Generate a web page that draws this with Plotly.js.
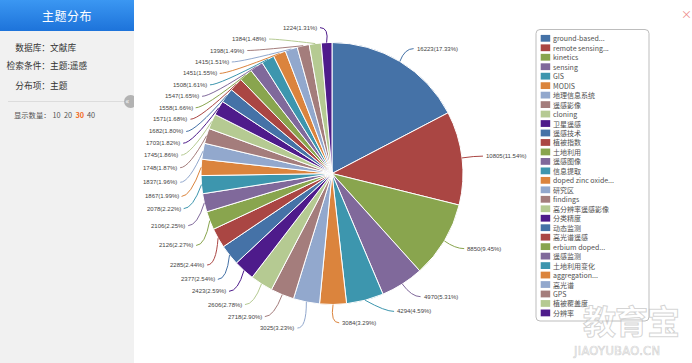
<!DOCTYPE html>
<html>
<head>
<meta charset="utf-8">
<script src="https://cdn.plot.ly/plotly-3.0.1.min.js"></script>
<style>
html,body{margin:0;padding:0;width:692px;height:363px;overflow:hidden;background:#fff;font-family:"Noto Sans CJK SC","Noto Sans",sans-serif;}
#chart{position:absolute;left:0;top:0;width:692px;height:363px;}
#panel{position:absolute;left:0;top:0;width:134px;height:363px;background:#f1f1f1;overflow:hidden;}
#hdr{position:absolute;left:0;top:0;width:134px;height:31px;background:linear-gradient(#3b97f2,#1d73da);color:#fff;font-size:12px;text-align:center;line-height:31px;letter-spacing:0.5px;}
.t{position:absolute;font-size:8.7px;color:#333;white-space:nowrap;line-height:12px;}
.r{text-align:right;}
#div{position:absolute;left:8px;top:101px;width:126px;height:1px;background:#dcdcdc;}
.s{position:absolute;font-size:7.3px;color:#555;white-space:nowrap;line-height:10px;}
#btn{position:absolute;left:123.5px;top:95px;width:13px;height:13px;border-radius:50%;background:#b3b3b3;color:#fff;font-size:8px;line-height:12px;text-indent:2px;}
#close{position:absolute;left:681px;top:7px;font-size:11px;color:#ee8a8a;line-height:14px;}
#wm1{position:absolute;left:583px;top:296px;font-size:33px;font-weight:bold;color:rgba(255,255,255,0.35);-webkit-text-stroke:1px rgba(175,175,175,0.55);letter-spacing:-1px;white-space:nowrap;}
#wm2{position:absolute;left:574px;top:344px;font-size:11.5px;color:rgba(255,255,255,0.3);-webkit-text-stroke:0.7px rgba(175,175,175,0.55);white-space:nowrap;letter-spacing:0.3px;font-family:"DejaVu Sans",sans-serif;}
</style>
</head>
<body>
<div id="chart"></div>
<div id="panel">
  <div id="hdr">主题分布</div>
  <div class="t r" style="left:0;width:50px;top:41.5px;">数据库：</div>
  <div class="t" style="left:50px;top:41.5px;">文献库</div>
  <div class="t r" style="left:0;width:50px;top:59.5px;">检索条件：</div>
  <div class="t" style="left:50px;top:59.5px;">主题:遥感</div>
  <div class="t r" style="left:0;width:50px;top:80px;">分布项：</div>
  <div class="t" style="left:50px;top:80px;">主题</div>
  <div id="div"></div>
  <div class="s" style="left:14px;top:109.5px;">显示数量：</div>
  <div class="s" style="left:52.5px;top:109.5px;">10</div>
  <div class="s" style="left:64px;top:109.5px;">20</div>
  <div class="s" style="left:75.5px;top:109.5px;color:#f26a1b;font-weight:bold;">30</div>
  <div class="s" style="left:87px;top:109.5px;">40</div>
  <div id="btn">«</div>
</div>
<div id="close">×</div>
<div id="wm1">教育宝</div>
<div id="wm2">JIAOYUBAO.CN</div>
<script>
// ---- data ----
const categories = ["ground-based...","remote sensing...","kinetics","sensing","GIS","MODIS","地理信息系统","遥感影像","cloning","卫星遥感","遥感技术","植被指数","土地利用","遥感图像","信息提取","doped zinc oxide...","研究区","findings","高分辨率遥感影像","分类精度","动态监测","高光谱遥感","erbium doped...","遥感监测","土地利用变化","aggregation...","高光谱","GPS","植被覆盖度","分辨率"];
const values = [16223,10805,8850,4970,4294,3084,3025,2718,2606,2423,2377,2285,2126,2106,2078,1867,1837,1748,1745,1703,1682,1571,1558,1547,1508,1451,1415,1398,1384,1224];
const palette = ["#4572A7","#AA4643","#89A54E","#80699B","#3D96AE","#DB843D","#92A8CD","#A47D7C","#B5CA92","#4e1b8b"];

// ---- geometry (pixels) ----
const W = 692, H = 363, CX = 332, CY = 173.5, R = 131;
const LEN = 15, LEN2 = 9, GAP = 3, LH = 11.45;
const px = x => x / W, py = y => 1 - y / H;

const total = values.reduce((a, b) => a + b, 0);
const colors = values.map((v, i) => palette[i % palette.length]);
const labelText = values.map(v => v + "(" + (v / total * 100).toFixed(2) + "%)");

// label layout (pie outer labels with leader lines)
const rA = R + LEN;
let cum = 0;
const items = values.map((v, i) => {
  const mid = (cum + v / 2) / total * 2 * Math.PI;
  cum += v;
  const sx = Math.sin(mid), sy = -Math.cos(mid);
  return { i, sx, sy, x0: rA * sx, y: CY + rA * sy, dir: sx < 0 ? -1 : 1 };
});

function adjustSide(list) {
  list.sort((a, b) => a.y - b.y);
  const len = list.length;
  function shiftUp(end, delta) {
    for (let j = end; j >= 0; j--) {
      if (list[j].y - delta < 0) break;
      list[j].y -= delta;
      if (j > 0 && list[j].y > list[j - 1].y + LH) break;
    }
  }
  function shiftDown(start, end, delta) {
    for (let j = start; j < end; j++) {
      if (list[j].y + delta > H) break;
      list[j].y += delta;
      if (j > start && j + 1 < end && list[j + 1].y > list[j].y + LH) {
        shiftUp(j, delta / 2);
        return;
      }
    }
    shiftUp(end - 1, delta / 2);
  }
  let lastY = 0;
  for (let i = 0; i < len; i++) {
    const d = list[i].y - lastY;
    if (d < 0) shiftDown(i, len, -d);
    lastY = list[i].y + LH;
  }
  if (H - lastY < 0) shiftUp(len - 1, lastY - H);
  const semis = [list.filter(it => it.y < CY), list.filter(it => it.y >= CY)];
  semis.forEach(semi => {
    if (!semi.length) return;
    let ref = semi[0], maxDy = -1;
    semi.forEach(it => { const dy = Math.abs(it.y - CY); if (dy >= maxDy) { maxDy = dy; ref = it; } });
    const rB = Math.abs(ref.x0) < rA ? maxDy / Math.sqrt(1 - ref.x0 * ref.x0 / (rA * rA)) : rA;
    semi.forEach(it => {
      const dy = Math.abs(it.y - CY);
      const ex = rA * Math.sqrt(Math.max(0, 1 - dy * dy / (rB * rB)));
      it.lx = CX + it.dir * (ex + LEN2);
    });
  });
}
adjustSide(items.filter(it => it.dir < 0));
adjustSide(items.filter(it => it.dir > 0));

const shapes = [], annotations = [];
items.forEach(it => {
  const p0x = CX + R * it.sx, p0y = CY + R * it.sy;
  const p2x = it.lx - it.dir * GAP, p2y = it.y;
  const p1x = p2x - it.dir * LEN2, p1y = it.y;
  shapes.push({
    type: "path", xref: "paper", yref: "paper",
    path: `M ${px(p0x)},${py(p0y)} Q ${px(p1x)},${py(p1y)} ${px(p2x)},${py(p2y)}`,
    line: { color: colors[it.i], width: 1 }, fillcolor: "rgba(0,0,0,0)"
  });
  annotations.push({
    xref: "paper", yref: "paper", x: px(it.lx), y: py(it.y),
    xanchor: it.dir < 0 ? "right" : "left", yanchor: "middle",
    text: labelText[it.i], showarrow: false, borderpad: 0, borderwidth: 0,
    font: { family: "Liberation Sans, Arial, sans-serif", size: 6, color: "#444" }
  });
});

// custom legend box
const LX0 = 536, LX1 = 649, LY0 = 29.5, LY1 = 321, RR = 4;
shapes.push({
  type: "path", xref: "paper", yref: "paper",
  path: `M ${px(LX0+RR)},${py(LY0)} L ${px(LX1-RR)},${py(LY0)} Q ${px(LX1)},${py(LY0)} ${px(LX1)},${py(LY0+RR)} L ${px(LX1)},${py(LY1-RR)} Q ${px(LX1)},${py(LY1)} ${px(LX1-RR)},${py(LY1)} L ${px(LX0+RR)},${py(LY1)} Q ${px(LX0)},${py(LY1)} ${px(LX0)},${py(LY1-RR)} L ${px(LX0)},${py(LY0+RR)} Q ${px(LX0)},${py(LY0)} ${px(LX0+RR)},${py(LY0)} Z`,
  line: { color: "#bdbdbd", width: 1 }, fillcolor: "rgba(255,255,255,0)"
});
categories.forEach((c, i) => {
  const yc = 38.3 + i * 9.47;
  shapes.push({
    type: "rect", xref: "paper", yref: "paper",
    x0: px(540.7), x1: px(550.2), y0: py(yc - 3.4), y1: py(yc + 3.4),
    fillcolor: colors[i], line: { width: 0 }
  });
  annotations.push({
    xref: "paper", yref: "paper", x: px(552.8), y: py(yc),
    xanchor: "left", yanchor: "middle", text: c, showarrow: false,
    borderpad: 0, borderwidth: 0,
    font: { family: "Noto Sans CJK SC, Noto Sans, sans-serif", size: 7, color: "#505050" }
  });
});

const trace = {
  type: "pie", values: values, labels: categories, sort: false,
  direction: "clockwise", rotation: 0,
  marker: { colors: colors, line: { color: "#ffffff", width: 1 } },
  textinfo: "none", showlegend: false, hoverinfo: "none",
  domain: { x: [px(CX - R), px(CX + R)], y: [py(CY + R), py(CY - R)] }
};

Plotly.newPlot("chart", [trace], {
  width: W, height: H, margin: { l: 0, r: 0, t: 0, b: 0 },
  paper_bgcolor: "#ffffff", showlegend: false,
  shapes: shapes, annotations: annotations
}, { staticPlot: true, displayModeBar: false });
</script>
</body>
</html>
